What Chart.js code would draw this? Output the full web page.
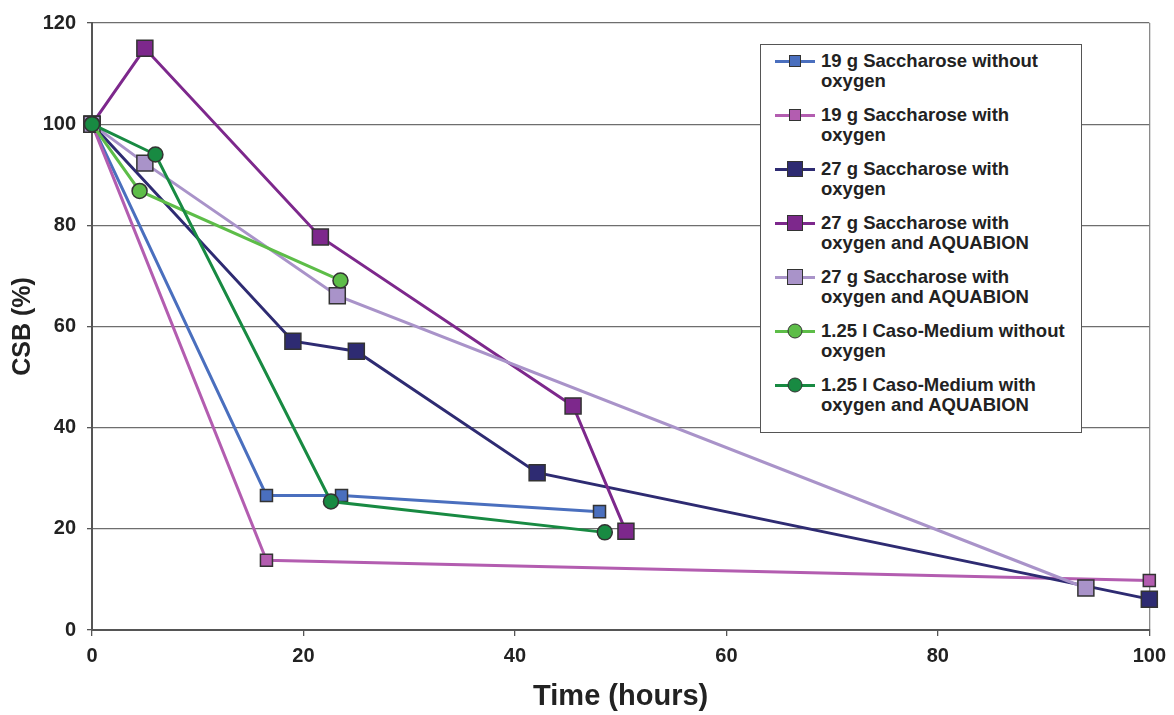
<!DOCTYPE html>
<html>
<head>
<meta charset="utf-8">
<script src="https://cdn.jsdelivr.net/npm/chart.js@4/dist/chart.umd.min.js"></script>
<style>
  body { margin: 0; background: #fff; font-family: "Liberation Sans", Arial, sans-serif; }
  .wrap { position: relative; width: 1174px; height: 715px; }
  #legend {
    position: absolute; left: 760px; top: 44px; width: 320px; height: 381px;
    border: 1px solid #555; background: #fff; box-sizing: content-box;
    padding-top: 6px;
  }
  .item { display: flex; align-items: flex-start; margin-bottom: 14px; }
  .mark { position: relative; width: 40px; height: 20px; margin-left: 14px; margin-right: 6px; flex: none; }
  .mark .ln { position: absolute; left: 0; right: 0; top: 9px; height: 3px; }
  .mark .pt { position: absolute; left: 50%; top: 50%; transform: translate(-50%, -50%); border: 1.5px solid #333; box-sizing: border-box; }
  .txt { font-weight: bold; font-size: 18.5px; line-height: 20px; color: #222; }
</style>
</head>
<body>
<div class="wrap">
  <canvas id="myChart" width="1174" height="715"></canvas>
  <div id="legend"></div>
</div>
<script>
// series names (legend text, two lines each)
const names = [
  ['19 g Saccharose without', 'oxygen'],
  ['19 g Saccharose with', 'oxygen'],
  ['27 g Saccharose with', 'oxygen'],
  ['27 g Saccharose with', 'oxygen and AQUABION'],
  ['27 g Saccharose with', 'oxygen and AQUABION'],
  ['1.25 l Caso-Medium without', 'oxygen'],
  ['1.25 l Caso-Medium with', 'oxygen and AQUABION']
];

// time (hours) and CSB (%) for every series
const time19NoO2 = [0, 16.5, 23.6, 48.0];
const csb19NoO2  = [100, 26.6, 26.6, 23.4];

const time19O2 = [0, 16.5, 100];
const csb19O2  = [100, 13.8, 9.8];

const time27O2 = [0, 19.0, 25.0, 42.1, 100];
const csb27O2  = [100, 57.1, 55.1, 31.1, 6.1];

const time27Aqua = [0, 5.0, 21.6, 45.5, 50.5];
const csb27Aqua  = [100, 115.0, 77.7, 44.3, 19.5];

const time27Aqua2 = [0, 5.0, 23.2, 94.0];
const csb27Aqua2  = [100, 92.3, 66.1, 8.3];

const timeCasoNoO2 = [0, 4.5, 23.5];
const csbCasoNoO2  = [100, 86.8, 69.1];

const timeCasoAqua = [0, 6.0, 22.6, 48.5];
const csbCasoAqua  = [100, 94.0, 25.4, 19.3];

const xTicks = [0, 20, 40, 60, 80, 100];
const yTicks = [0, 20, 40, 60, 80, 100, 120];

const colors = ['#4a6fbe', '#b35db0', '#2e2b72', '#7d288c', '#a993c9', '#5dbd48', '#188a42'];
const styles = ['rect', 'rect', 'rect', 'rect', 'rect', 'circle', 'circle'];
const radii  = [8.5, 8.5, 11.3, 11.3, 11.3, 7.5, 7.5];

const times = [time19NoO2, time19O2, time27O2, time27Aqua, time27Aqua2, timeCasoNoO2, timeCasoAqua];
const values = [csb19NoO2, csb19O2, csb27O2, csb27Aqua, csb27Aqua2, csbCasoNoO2, csbCasoAqua];

function pts(xs, ys) {
  return xs.map((x, i) => ({ x: x, y: ys[i] }));
}

const datasets = names.map((n, i) => ({
  label: n.join(' '),
  data: pts(times[i], values[i]),
  borderColor: colors[i],
  backgroundColor: colors[i],
  borderWidth: 3,
  pointStyle: styles[i],
  pointRadius: radii[i],
  pointHoverRadius: radii[i],
  pointBackgroundColor: colors[i],
  pointBorderColor: '#333',
  pointBorderWidth: 1.5,
  tension: 0,
  fill: false,
  clip: false,
  order: names.length - i
}));

const FONT = "'Liberation Sans', Arial, sans-serif";
const ctx = document.getElementById('myChart');

var chart = new Chart(ctx, {
  type: 'line',
  data: { datasets: datasets },
  options: {
    responsive: false,
    animation: false,
    devicePixelRatio: 1,
    layout: { padding: { left: 0, right: 21, top: 19, bottom: 0 } },
    plugins: {
      legend: { display: false },
      tooltip: { enabled: false }
    },
    scales: {
      x: {
        type: 'linear',
        min: 0,
        max: 100,
        afterBuildTicks: (s) => { s.ticks = xTicks.map(v => ({ value: v })); },
        afterFit: (s) => { s.height = 85; },
        border: { color: '#555', width: 2 },
        grid: {
          color: (c) => (c.tick && c.tick.value === 100 ? '#8a8a8a' : 'rgba(0,0,0,0)'),
          lineWidth: 1.3,
          tickColor: '#555',
          tickLength: 6
        },
        ticks: {
          padding: 8,
          color: '#222',
          font: { family: FONT, size: 20, weight: 'bold' }
        },
        title: {
          display: true,
          text: 'Time (hours)',
          color: '#222',
          padding: { top: 0, bottom: 1 },
          font: { family: FONT, size: 29, weight: 'bold' }
        }
      },
      y: {
        min: 0,
        max: 120,
        afterBuildTicks: (s) => { s.ticks = yTicks.map(v => ({ value: v })); },
        afterFit: (s) => { s.width = 92; },
        border: { color: '#555', width: 2 },
        grid: {
          color: '#6e6e6e',
          lineWidth: 1.3,
          tickColor: '#555',
          tickLength: 5
        },
        ticks: {
          padding: 11,
          color: '#222',
          font: { family: FONT, size: 20, weight: 'bold' }
        },
        title: {
          display: true,
          text: 'CSB (%)',
          color: '#222',
          padding: { top: 8, bottom: 0 },
          font: { family: FONT, size: 25, weight: 'bold' }
        }
      }
    }
  }
});

// html legend built from the chart's datasets
const legendBox = document.getElementById('legend');
chart.data.datasets.forEach((ds, i) => {
  const item = document.createElement('div');
  item.className = 'item';
  const side = ds.pointStyle === 'circle' ? ds.pointRadius * 2 : Math.round(ds.pointRadius * 1.4);
  item.innerHTML =
    '<div class="mark"><div class="ln" style="background:' + ds.borderColor + '"></div>' +
    '<div class="pt" style="width:' + side + 'px;height:' + side + 'px;background:' + ds.backgroundColor +
    (ds.pointStyle === 'circle' ? ';border-radius:50%' : '') + '"></div></div>' +
    '<div class="txt">' + names[i][0] + '<br>' + names[i][1] + '</div>';
  legendBox.appendChild(item);
});
</script>
</body>
</html>
